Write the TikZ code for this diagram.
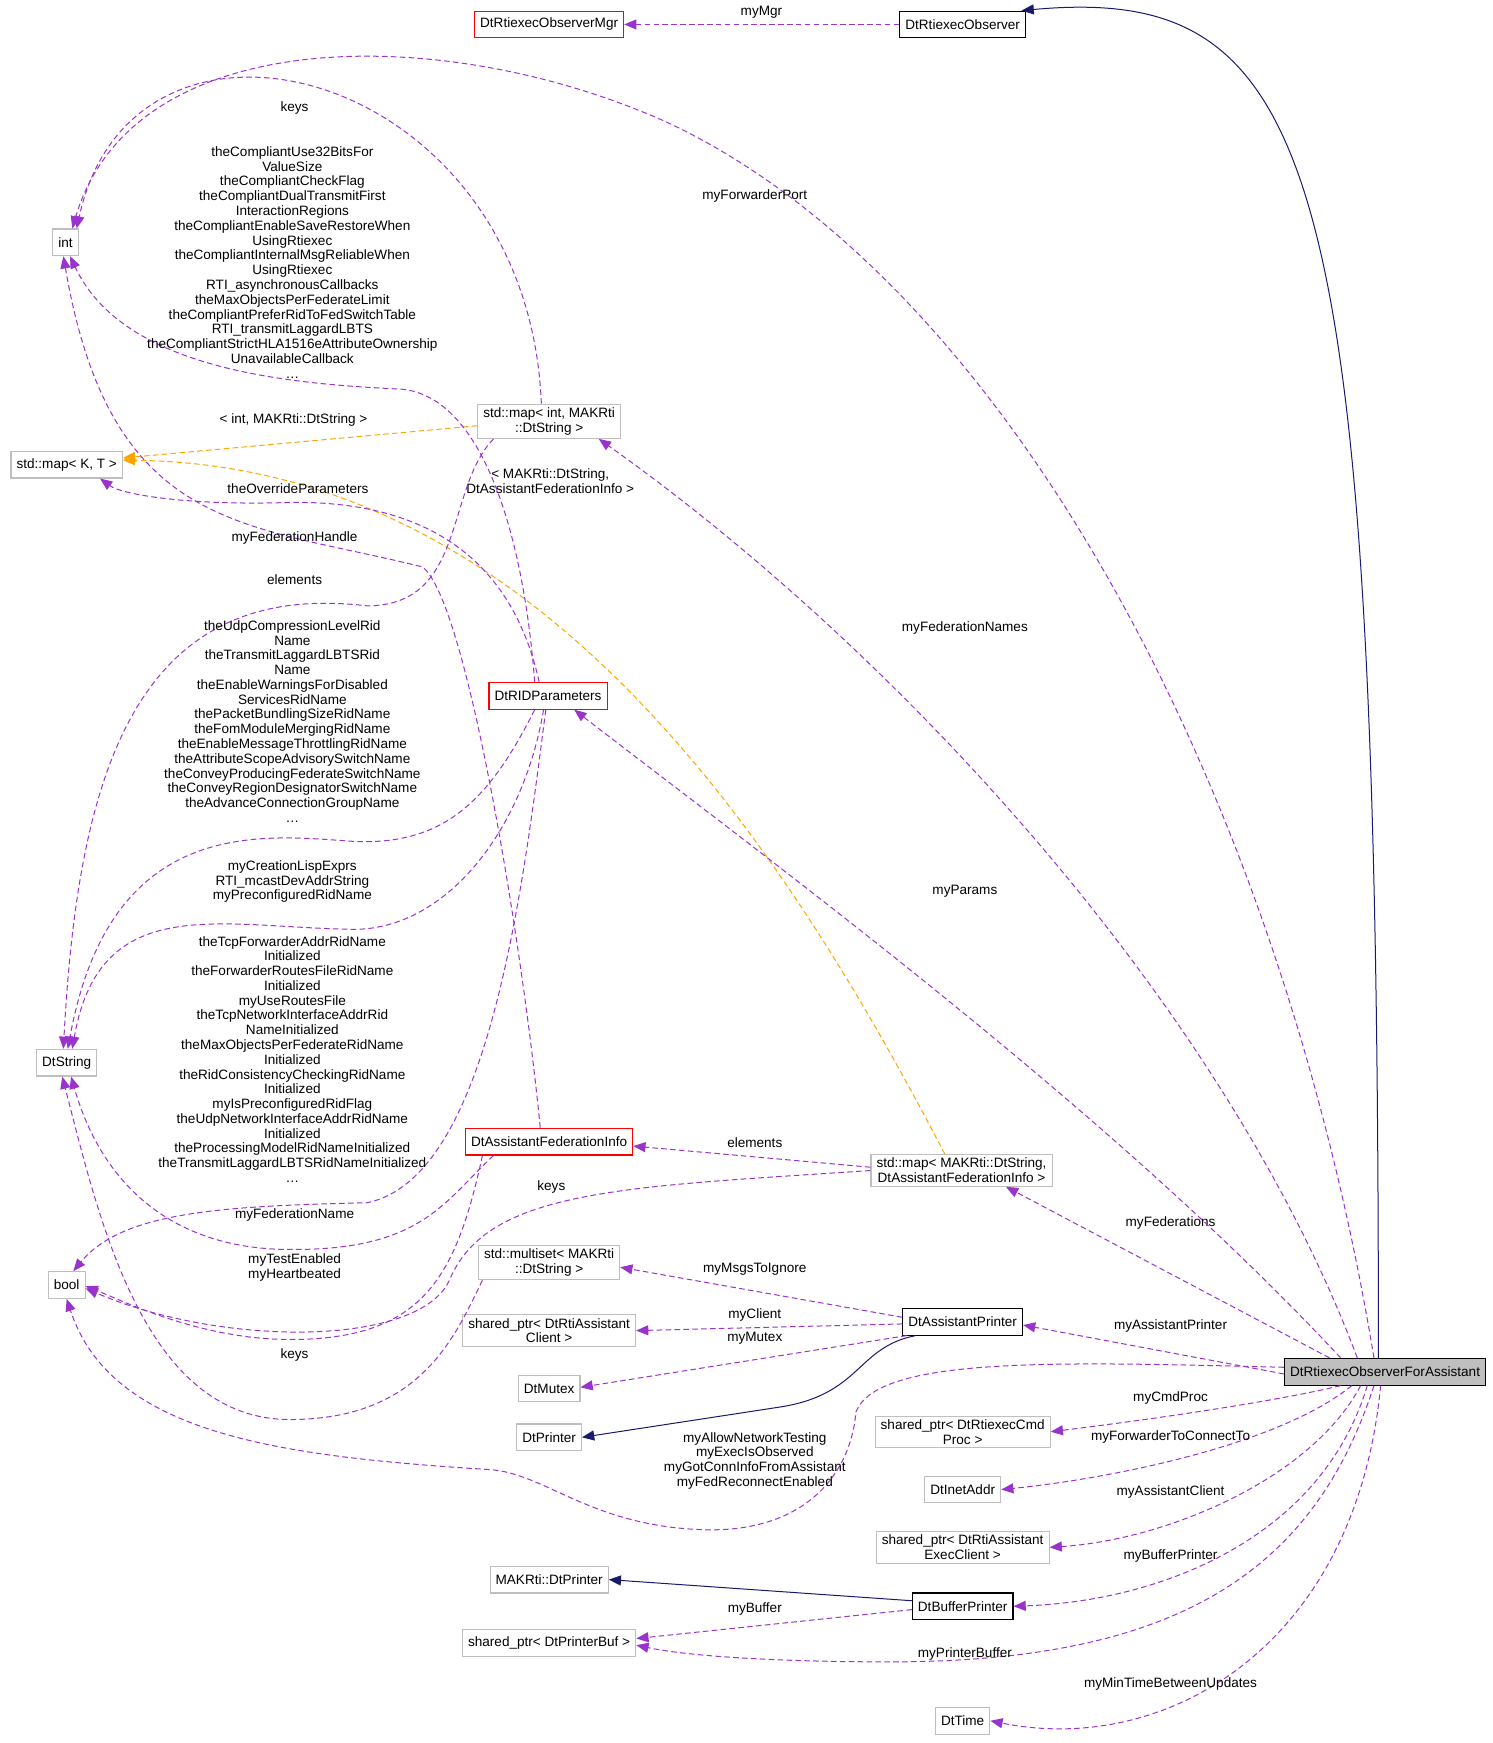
\documentclass[tikz,border=0pt]{standalone}
\usepackage{fontspec}
\setmainfont{Liberation Sans}
\usetikzlibrary{arrows.meta}
\definecolor{dep}{RGB}{154,50,205}
\definecolor{inh}{RGB}{25,25,112}
\definecolor{tpl}{RGB}{255,165,0}
\definecolor{frame}{RGB}{191,191,191}
\tikzset{
every node/.style={font=\fontsize{12.2}{13.3}\selectfont},
box/.style={draw=frame, rectangle, align=center, inner xsep=5pt, inner ysep=3pt, minimum height=24pt, line width=1pt},
redbox/.style={box, draw=red},
blackbox/.style={box, draw=black},
use/.style={dep, line width=0.9pt, dash pattern=on 5pt off 3pt, -{Triangle[length=11pt,width=9pt]}},
inherit/.style={inh, line width=0.9pt, -{Triangle[length=11pt,width=9pt]}},
tmpl/.style={tpl, line width=0.9pt, dash pattern=on 5pt off 3pt, -{Triangle[length=11pt,width=9pt]}},
lbl/.style={align=center, inner sep=0pt},
}

\begin{document}
\begin{tikzpicture}[x=1pt,y=-1pt]
    \useasboundingbox (0,0) rectangle (1343,1568);

    % classes
    \node [redbox] (mgr) at (494,22) {DtRtiexecObserverMgr};
    \node [blackbox] (obs) at (866,22) {DtRtiexecObserver};
    \node [blackbox, fill=frame] (main) at (1246,1234) {DtRtiexecObserverForAssistant};
    \node [box] (int) at (59,218) {int};
    \node [box] (mapkt) at (60,418) {std::map\textless{} K, T \textgreater};
    \node [box] (mapint) at (494,379) {std::map\textless{} int, MAKRti\\::DtString \textgreater};
    \node [box] (dtstring) at (60,956) {DtString};
    \node [redbox] (rid) at (493,626) {DtRIDParameters};
    \node [redbox] (afi) at (494,1027) {DtAssistantFederationInfo};
    \node [box] (mapfed) at (865,1053) {std::map\textless{} MAKRti::DtString,\\DtAssistantFederationInfo \textgreater};
    \node [box] (bool) at (60,1156) {bool};
    \node [box] (mset) at (494,1136) {std::multiset\textless{} MAKRti\\::DtString \textgreater};
    \node [box] (pclient) at (494,1197) {shared\_ptr\textless{} DtRtiAssistant\\Client \textgreater};
    \node [box] (mutex) at (494,1249) {DtMutex};
    \node [box] (printer) at (494,1293) {DtPrinter};
    \node [blackbox] (aprinter) at (866,1189) {DtAssistantPrinter};
    \node [box] (pcmd) at (866,1288) {shared\_ptr\textless{} DtRtiexecCmd\\Proc \textgreater};
    \node [box] (inet) at (866,1340) {DtInetAddr};
    \node [box] (pexec) at (866,1392) {shared\_ptr\textless{} DtRtiAssistant\\ExecClient \textgreater};
    \node [box] (makprinter) at (494,1421) {MAKRti::DtPrinter};
    \node [blackbox] (bprinter) at (866,1445) {DtBufferPrinter};
    \node [box] (pbuf) at (494,1478) {shared\_ptr\textless{} DtPrinterBuf \textgreater};
    \node [box] (dttime) at (866,1548) {DtTime};

    % inheritance
    \draw [inherit] ([xshift=-6pt]main.north) .. controls (1240,150) and (1190,-15) .. ([xshift=-4pt]obs.north east);
    \draw [inherit] ([xshift=12pt]aprinter.south west) .. controls (770,1212) and (775,1255) .. (700,1266) -- (printer.east);
    \draw [inherit] ([yshift=5pt]bprinter.west) -- (makprinter.east);

    % templates
    \draw [tmpl] ([yshift=-4pt]mapint.west) -- ([yshift=6pt]mapkt.east);
    \draw [tmpl] ([xshift=-15pt]mapfed.north) .. controls (700,750) and (480,418) .. ([yshift=4pt]mapkt.east);
    \node [lbl] at (264,378) {\textless{} int, MAKRti::DtString \textgreater};
    \node [lbl] at (495,433) {\textless{} MAKRti::DtString,\\DtAssistantFederationInfo \textgreater};

    % members
    \draw [use] (obs.west) -- (mgr.east);
    \node [lbl] at (685,11) {myMgr};

    \draw [use] ([xshift=-10pt]main.north) .. controls (1150,700) and (900,250) .. (600,110)
        .. controls (400,20) and (120,20) .. ([xshift=6pt]int.north);
    \node [lbl] at (679,176) {myForwarderPort};

    \draw [use] ([xshift=-7pt]mapint.north) .. controls (475,60) and (120,-30) .. ([xshift=10pt]int.north);
    \node [lbl] at (265,97) {keys};

    \draw [use] ([xshift=-12pt]rid.north) .. controls (470,470) and (430,355) .. (360,350)
        .. controls (250,345) and (110,330) .. ([xshift=4pt]int.south);
    \node [lbl] at (263,236) {theCompliantUse32BitsFor\\ValueSize\\theCompliantCheckFlag\\theCompliantDualTransmitFirst\\InteractionRegions\\theCompliantEnableSaveRestoreWhen\\UsingRtiexec\\theCompliantInternalMsgReliableWhen\\UsingRtiexec\\RTI\_asynchronousCallbacks\\theMaxObjectsPerFederateLimit\\theCompliantPreferRidToFedSwitchTable\\RTI\_transmitLaggardLBTS\\theCompliantStrictHLA1516eAttributeOwnership\\UnavailableCallback\\\dots};

    \draw [use] ([xshift=-8pt]rid.north) .. controls (460,500) and (380,450) .. (260,452)
        .. controls (170,455) and (110,445) .. ([xshift=30pt]mapkt.south);
    \node [lbl] at (268,440) {theOverrideParameters};

    \draw [use] ([xshift=-8pt]afi.north) .. controls (470,850) and (420,540) .. (380,510)
        .. controls (220,470) and (100,480) .. ([xshift=-2pt]int.south);
    \node [lbl] at (265,484) {myFederationHandle};

    \draw [use] ([xshift=-50pt]mapint.south) .. controls (400,440) and (420,545) .. (330,545)
        .. controls (120,520) and (70,700) .. ([xshift=-3pt]dtstring.north);
    \node [lbl] at (265,521) {elements};

    \draw [use] ([xshift=-12pt]rid.south) .. controls (440,720) and (400,760) .. (320,757)
        .. controls (240,752) and (100,730) .. ([xshift=1pt]dtstring.north);
    \node [lbl] at (263,649) {theUdpCompressionLevelRid\\Name\\theTransmitLaggardLBTSRid\\Name\\theEnableWarningsForDisabled\\ServicesRidName\\thePacketBundlingSizeRidName\\theFomModuleMergingRidName\\theEnableMessageThrottlingRidName\\theAttributeScopeAdvisorySwitchName\\theConveyProducingFederateSwitchName\\theConveyRegionDesignatorSwitchName\\theAdvanceConnectionGroupName\\\dots};

    \draw [use] ([xshift=-4pt]rid.south) .. controls (470,750) and (400,835) .. (320,836)
        .. controls (200,835) and (90,800) .. ([xshift=5pt]dtstring.north);
    \node [lbl] at (263,793) {myCreationLispExprs\\RTI\_mcastDevAddrString\\myPreconfiguredRidName};

    \draw [use] ([xshift=-2pt]rid.south) .. controls (470,800) and (440,1060) .. (330,1082)
        .. controls (200,1085) and (110,1090) .. ([xshift=6pt]bool.north);
    \node [lbl] at (263,953) {theTcpForwarderAddrRidName\\Initialized\\theForwarderRoutesFileRidName\\Initialized\\myUseRoutesFile\\theTcpNetworkInterfaceAddrRid\\NameInitialized\\theMaxObjectsPerFederateRidName\\Initialized\\theRidConsistencyCheckingRidName\\Initialized\\myIsPreconfiguredRidFlag\\theUdpNetworkInterfaceAddrRidName\\Initialized\\theProcessingModelRidNameInitialized\\theTransmitLaggardLBTSRidNameInitialized\\\dots};

    \draw [use] ([xshift=-50pt]afi.south) .. controls (400,1080) and (380,1125) .. (261,1124)
        .. controls (150,1124) and (90,1060) .. ([xshift=4pt]dtstring.south);
    \node [lbl] at (265,1093) {myFederationName};

    \draw [use] ([xshift=-60pt]afi.south) .. controls (410,1150) and (380,1205) .. (261,1205)
        .. controls (180,1205) and (110,1170) .. ([yshift=-1pt]bool.east);
    \node [lbl] at (265,1140) {myTestEnabled\\myHeartbeated};

    \draw [use] (mapfed.west) .. controls (560,1068) and (440,1070) .. (405,1150)
        .. controls (380,1212) and (200,1212) .. ([yshift=-3pt]bool.east);
    \node [lbl] at (496,1068) {keys};

    \draw [use] ([xshift=-60pt]mset.south) .. controls (410,1200) and (380,1277) .. (261,1277)
        .. controls (130,1277) and (90,1100) .. ([xshift=-4pt]dtstring.south);
    \node [lbl] at (265,1219) {keys};

    \draw [use] ([yshift=3pt]mapfed.west) -- ([yshift=-4pt]afi.east);
    \node [lbl] at (679,1028) {elements};

    \draw [use] ([yshift=4pt]aprinter.west) -- ([yshift=-4pt]mset.east);
    \node [lbl] at (679,1142) {myMsgsToIgnore};
    \draw [use] ([yshift=-2pt]aprinter.west) -- (pclient.east);
    \node [lbl] at (679,1183) {myClient};
    \draw [use] ([xshift=4pt]aprinter.south west) -- ([yshift=1pt]mutex.east);
    \node [lbl] at (679,1204) {myMutex};

    \draw [use] ([yshift=4pt]main.west) .. controls (950,1225) and (790,1220) .. (770,1270)
        .. controls (765,1330) and (720,1380) .. (630,1376)
        .. controls (530,1372) and (490,1325) .. (440,1322)
        .. controls (250,1310) and (100,1290) .. (bool.south);
    \node [lbl] at (679,1314) {myAllowNetworkTesting\\myExecIsObserved\\myGotConnInfoFromAssistant\\myFedReconnectEnabled};

    \draw [use] ([yshift=-2pt]main.west) -- ([yshift=-3pt]aprinter.east);
    \node [lbl] at (1053,1193) {myAssistantPrinter};

    \draw [use] ([xshift=-50pt]main.north) -- ([xshift=40pt]mapfed.south);
    \node [lbl] at (1053,1100) {myFederations};

    \draw [use] ([xshift=-40pt]main.north) .. controls (1000,1000) and (700,780) .. ([xshift=-30pt]rid.south east);
    \node [lbl] at (868,802) {myParams};

    \draw [use] ([xshift=-25pt]main.north) .. controls (1100,900) and (800,580) .. ([xshift=-20pt]mapint.south east);
    \node [lbl] at (868,565) {myFederationNames};

    \draw [use] ([xshift=-40pt]main.south) .. controls (1150,1260) and (1050,1275) .. (pcmd.east);
    \node [lbl] at (1053,1258) {myCmdProc};
    \draw [use] ([xshift=-30pt]main.south) .. controls (1150,1300) and (1000,1330) .. (inet.east);
    \node [lbl] at (1053,1293) {myForwarderToConnectTo};
    \draw [use] ([xshift=-22pt]main.south) .. controls (1180,1330) and (1050,1385) .. (pexec.east);
    \node [lbl] at (1053,1342) {myAssistantClient};
    \draw [use] ([xshift=-16pt]main.south) .. controls (1190,1380) and (1050,1440) .. (bprinter.east);
    \node [lbl] at (1053,1400) {myBufferPrinter};

    \draw [use] ([yshift=-3pt]bprinter.west) -- ([yshift=4pt]pbuf.east);
    \node [lbl] at (679,1447) {myBuffer};

    \draw [use] ([xshift=-10pt]main.south) .. controls (1180,1420) and (1050,1495) .. (800,1495)
        .. controls (700,1495) and (620,1490) .. ([yshift=-2pt]pbuf.east);
    \node [lbl] at (868,1488) {myPrinterBuffer};

    \draw [use] ([xshift=-4pt]main.south) .. controls (1220,1480) and (1050,1580) .. (dttime.east);
    \node [lbl] at (1053,1515) {myMinTimeBetweenUpdates};
\end{tikzpicture}
\end{document}
